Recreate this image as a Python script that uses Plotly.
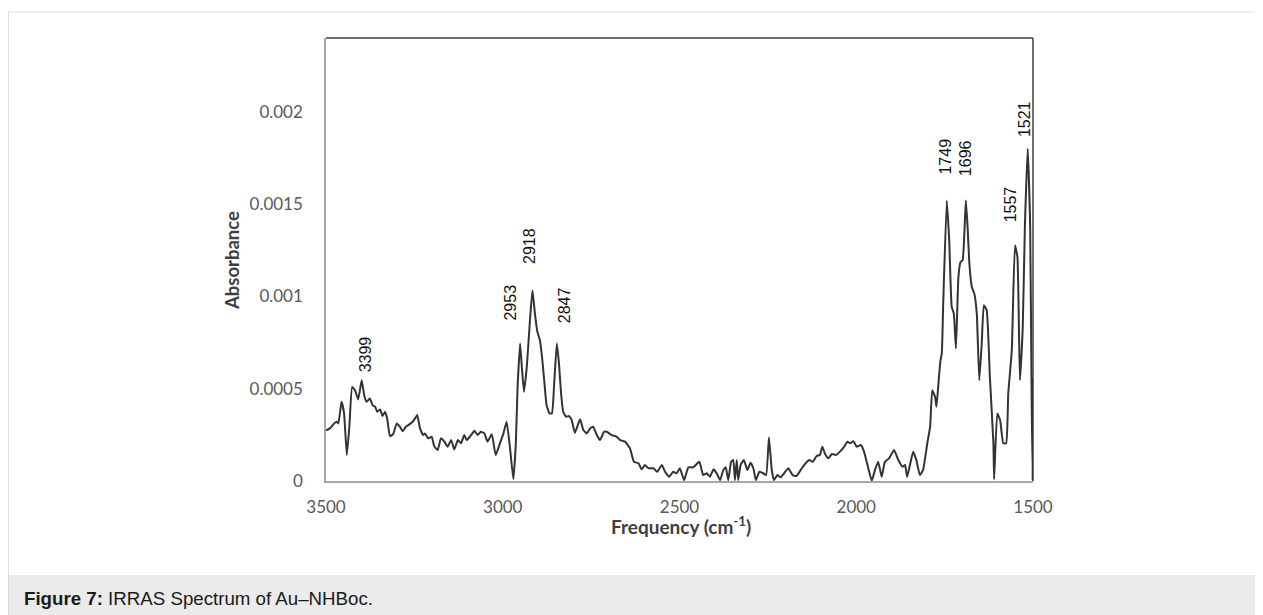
import plotly.graph_objects as go

# ---- data ----
frequency = [
    3500, 3489, 3477, 3470, 3465, 3456, 3449, 3441, 3434, 3426, 3418, 3409, 3399, 3392, 3385,
    3376, 3368, 3361, 3355, 3347, 3340, 3333, 3327, 3319, 3310, 3300, 3291, 3283, 3274, 3264,
    3255, 3248, 3242, 3234, 3225, 3220, 3211, 3201, 3194, 3184, 3175, 3165, 3156, 3146, 3137,
    3127, 3118, 3109, 3102, 3093, 3080, 3071, 3062, 3052, 3043, 3031, 3020, 3008, 2998, 2989,
    2979, 2970, 2963, 2958, 2951, 2946, 2940, 2932, 2923, 2916, 2909, 2902, 2895, 2888, 2882,
    2876, 2868, 2861, 2854, 2847, 2841, 2835, 2829, 2821, 2813, 2805, 2796, 2786, 2781, 2772,
    2762, 2753, 2744, 2734, 2725, 2713, 2706, 2692, 2678, 2668, 2654, 2640, 2629, 2616, 2607,
    2598, 2588, 2574, 2563, 2550, 2541, 2529, 2518, 2508, 2499, 2487, 2475, 2461, 2444, 2433,
    2423, 2414, 2404, 2395, 2385, 2376, 2369, 2362, 2354, 2348, 2343, 2338, 2334, 2327, 2318,
    2308, 2299, 2291, 2284, 2274, 2263, 2255, 2247, 2239, 2233, 2223, 2214, 2204, 2192, 2180,
    2169, 2154, 2142, 2133, 2123, 2112, 2103, 2096, 2088, 2079, 2069, 2057, 2046, 2034, 2025,
    2017, 2008, 1999, 1987, 1978, 1966, 1956, 1947, 1938, 1928, 1919, 1907, 1893, 1881, 1869,
    1862, 1856, 1848, 1839, 1830, 1820, 1811, 1799, 1791, 1785, 1777, 1773, 1767, 1762, 1758,
    1754, 1744, 1737, 1730, 1724, 1718, 1711, 1705, 1699, 1690, 1685, 1680, 1673, 1666, 1659,
    1652, 1645, 1639, 1631, 1622, 1612, 1610, 1601, 1593, 1584, 1576, 1570, 1560, 1551, 1544,
    1537, 1529, 1523, 1515, 1508, 1504, 1501, 1500,
]

absorbance = [
    2.75e-4, 2.85e-4, 3.12e-4, 3.21e-4, 3.12e-4, 4.29e-4, 3.68e-4, 1.41e-4, 2.94e-4, 5.10e-4,
    4.92e-4, 4.42e-4, 5.46e-4, 4.65e-4, 4.29e-4, 4.47e-4, 4.11e-4, 4.02e-4, 3.75e-4, 3.88e-4,
    3.52e-4, 3.75e-4, 3.39e-4, 2.43e-4, 2.54e-4, 3.12e-4, 2.94e-4, 2.70e-4, 2.94e-4, 3.07e-4,
    3.21e-4, 3.39e-4, 3.57e-4, 2.85e-4, 2.49e-4, 2.58e-4, 2.31e-4, 2.40e-4, 1.89e-4, 1.68e-4,
    2.31e-4, 2.13e-4, 1.86e-4, 2.22e-4, 1.71e-4, 2.22e-4, 2.04e-4, 2.49e-4, 2.22e-4, 2.40e-4,
    2.72e-4, 2.49e-4, 2.67e-4, 2.58e-4, 2.13e-4, 2.54e-4, 1.41e-4, 2.04e-4, 2.58e-4, 3.21e-4,
    1.70e-4, 0.10e-4, 2.04e-4, 5.10e-4, 7.45e-4, 6.18e-4, 4.83e-4, 6.18e-4, 8.71e-4, 10.33e-4,
    9.07e-4, 8.08e-4, 7.63e-4, 6.55e-4, 5.29e-4, 4.11e-4, 3.66e-4, 3.66e-4, 5.46e-4, 7.45e-4,
    6.37e-4, 4.74e-4, 3.75e-4, 3.48e-4, 3.52e-4, 3.30e-4, 2.61e-4, 3.12e-4, 3.34e-4, 2.76e-4,
    2.58e-4, 2.85e-4, 2.94e-4, 2.49e-4, 2.22e-4, 2.67e-4, 2.67e-4, 2.49e-4, 2.40e-4, 2.22e-4,
    2.13e-4, 1.77e-4, 1.04e-4, 0.96e-4, 0.63e-4, 0.87e-4, 0.69e-4, 0.69e-4, 0.50e-4, 0.87e-4,
    0.50e-4, 0.23e-4, 0.50e-4, 0.42e-4, 0.69e-4, 0.05e-4, 0.74e-4, 0.74e-4, 1.04e-4, 0.32e-4,
    0.42e-4, 0.23e-4, 0.63e-4, 0.42e-4, 0.05e-4, 0.60e-4, 0.74e-4, 0.05e-4, 1.04e-4, 1.14e-4,
    0.05e-4, 1.14e-4, 0.05e-4, 0.87e-4, 1.14e-4, 0.60e-4, 0.99e-4, 0.69e-4, 0.05e-4, 0.50e-4,
    0.42e-4, 0.32e-4, 2.36e-4, 0.60e-4, 0.05e-4, 0.32e-4, 0.20e-4, 0.42e-4, 0.69e-4, 0.32e-4,
    0.27e-4, 0.69e-4, 0.99e-4, 1.14e-4, 1.04e-4, 1.35e-4, 1.41e-4, 1.86e-4, 1.46e-4, 1.23e-4,
    1.46e-4, 1.41e-4, 1.59e-4, 1.86e-4, 2.13e-4, 2.04e-4, 2.16e-4, 1.86e-4, 1.95e-4, 1.59e-4,
    0.69e-4, 0.02e-4, 0.60e-4, 1.04e-4, 0.23e-4, 1.04e-4, 1.23e-4, 1.68e-4, 1.14e-4, 0.77e-4,
    0.87e-4, 0.23e-4, 0.87e-4, 1.59e-4, 1.14e-4, 0.32e-4, 0.60e-4, 2.04e-4, 2.94e-4, 4.92e-4,
    4.56e-4, 4.02e-4, 5.40e-4, 6.50e-4, 6.91e-4, 9.61e-4, 15.20e-4, 13.04e-4, 9.43e-4, 9.07e-4,
    7.18e-4, 11.05e-4, 11.86e-4, 11.96e-4, 15.20e-4, 13.76e-4, 11.78e-4, 10.51e-4, 10.15e-4, 9.07e-4,
    5.46e-4, 7.45e-4, 9.52e-4, 9.25e-4, 5.64e-4, 2.04e-4, 0.10e-4, 3.66e-4, 3.30e-4, 2.04e-4,
    2.04e-4, 4.74e-4, 7.09e-4, 12.77e-4, 12.13e-4, 5.46e-4, 8.35e-4, 13.76e-4, 18.00e-4, 13.76e-4,
    4.74e-4, 0.05e-4, 5.60e-4,
]

x_tick_values = [3500, 3000, 2500, 2000, 1500]
x_tick_labels = ["3500", "3000", "2500", "2000", "1500"]
y_tick_values = [0, 0.0005, 0.001, 0.0015, 0.002]
y_tick_labels = ["0", "0.0005", "0.001", "0.0015", "0.002"]

peak_labels = ["3399", "2953", "2918", "2847", "1749", "1696", "1557", "1521"]
# placement of each peak label (frequency, absorbance) of its centre
peak_label_x = [3388, 2977, 2924, 2827, 1747, 1689, 1565, 1524]
peak_label_y = [6.84e-4, 9.66e-4, 12.71e-4, 9.52e-4, 17.56e-4, 17.5e-4, 14.99e-4, 19.58e-4]

x_title = "Frequency (cm<sup>-1</sup>)"
y_title = "Absorbance"
caption_bold = "Figure 7:"
caption_text = " IRRAS Spectrum of Au\u2013NHBoc."

# ---- figure ----
W, H = 1263, 615
OFF = 8  # page body margin of the browser
L, R, T, B = 318, 238, 30, 142
pw, ph = W - L - R, H - T - B


def px(sx):
    """screen x (pixels) -> paper x"""
    return (sx - OFF - L) / pw


def py(sy):
    """screen y (pixels) -> paper y"""
    return (H - B - (sy - OFF)) / ph


fig = go.Figure()
fig.add_trace(go.Scatter(
    x=frequency, y=absorbance, mode="lines",
    line=dict(color="#333333", width=2, shape="spline", smoothing=0.4),
    hoverinfo="skip", showlegend=False,
))

tick_font = dict(family="Lato, Carlito, sans-serif", size=17, color="#595959")

fig.update_layout(
    width=W, height=H,
    margin=dict(l=L, r=R, t=T, b=B, pad=0),
    paper_bgcolor="white", plot_bgcolor="white",
    showlegend=False,
    xaxis=dict(
        range=[3500, 1500], tickmode="array", tickvals=x_tick_values, ticktext=x_tick_labels,
        showgrid=False, zeroline=False, showline=True, linecolor="#a6a6a6", linewidth=1.5,
        ticks="", tickfont=tick_font, ticklabelstandoff=10,
    ),
    yaxis=dict(
        range=[0, 0.0024], tickmode="array", tickvals=y_tick_values, ticktext=y_tick_labels,
        showgrid=False, zeroline=False, showline=True, linecolor="#a6a6a6", linewidth=1.5,
        ticks="", tickfont=tick_font, ticklabelstandoff=18,
    ),
)

shapes = [
    # plot area border (top & right)
    dict(type="line", xref="paper", yref="paper", x0=0, x1=1, y0=1, y1=1,
         line=dict(color="#404040", width=1.5)),
    dict(type="line", xref="paper", yref="paper", x0=1, x1=1, y0=0, y1=1,
         line=dict(color="#404040", width=1.5), layer="below"),
    # caption band
    dict(type="rect", xref="paper", yref="paper", x0=px(7), x1=px(W + 20), y0=py(575), y1=py(H + 20),
         fillcolor="#ebebeb", line=dict(width=0), layer="below"),
    # outer light frame
    dict(type="line", xref="paper", yref="paper", x0=px(8.5), x1=px(W + 20), y0=py(12), y1=py(12),
         line=dict(color="#dcdcdc", width=1)),
    dict(type="line", xref="paper", yref="paper", x0=px(8.5), x1=px(8.5), y0=py(12), y1=py(H + 20),
         line=dict(color="#dcdcdc", width=1)),
]
fig.update_layout(shapes=shapes)

annotations = []
for txt, fx, fy in zip(peak_labels, peak_label_x, peak_label_y):
    annotations.append(dict(
        x=fx, y=fy, xref="x", yref="y", text=txt, showarrow=False, textangle=-90,
        font=dict(family="Liberation Sans, Arial, sans-serif", size=16, color="#111111"),
        xanchor="center", yanchor="middle",
    ))

annotations.append(dict(
    x=px(681), y=py(525), xref="paper", yref="paper", text="<b>" + x_title + "</b>",
    showarrow=False, font=dict(family="Lato, Carlito, sans-serif", size=19, color="#404040"),
    xanchor="center", yanchor="middle",
))
annotations.append(dict(
    x=px(232), y=py(261), xref="paper", yref="paper", text="<b>" + y_title + "</b>",
    showarrow=False, textangle=-90,
    font=dict(family="Lato, Carlito, sans-serif", size=18.5, color="#404040"),
    xanchor="center", yanchor="middle",
))
annotations.append(dict(
    x=px(22), y=py(598), xref="paper", yref="paper",
    text="<b>" + caption_bold + "</b>" + caption_text,
    showarrow=False, font=dict(family="Liberation Sans, Arial, sans-serif", size=18.7, color="#1a1a1a"),
    xanchor="left", yanchor="middle",
))
fig.update_layout(annotations=annotations)

fig.write_html("out.html")
